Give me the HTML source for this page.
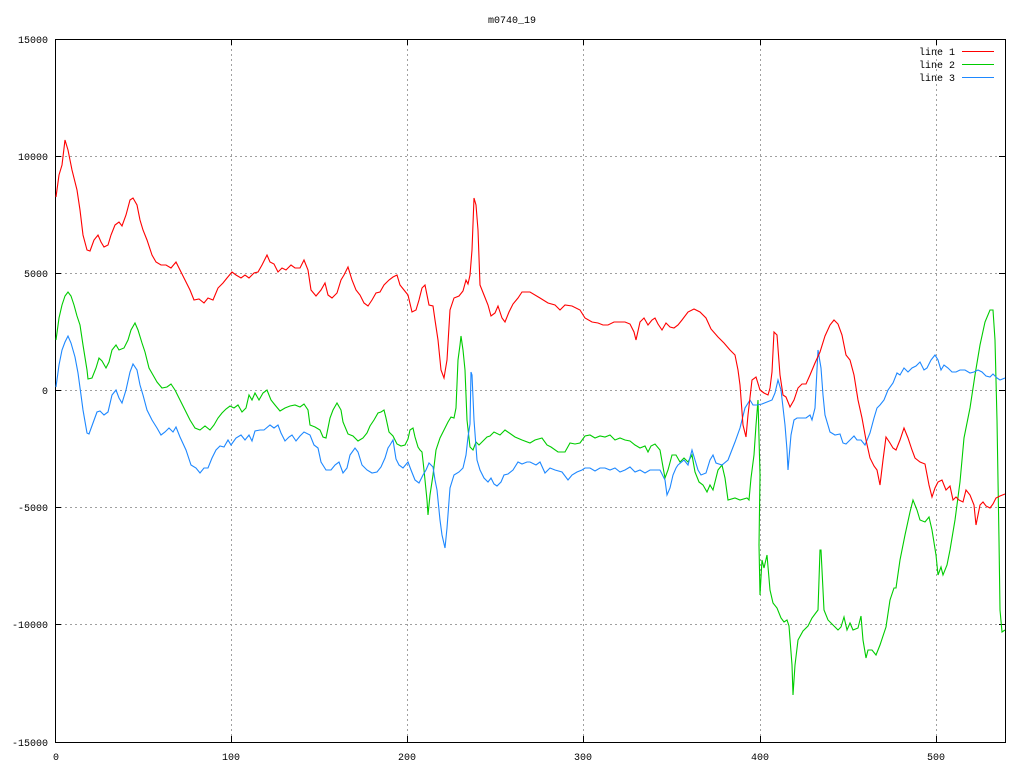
<!DOCTYPE html>
<html><head><meta charset="utf-8"><style>
body{margin:0;background:#fff}
svg{display:block;font-family:"Liberation Mono",monospace;font-size:10px}
</style></head><body>
<svg width="1024" height="768" xmlns="http://www.w3.org/2000/svg">
<rect width="1024" height="768" fill="#fff"/>
<g stroke="#a0a0a0" stroke-dasharray="2,3" stroke-width="1">
<line x1="231.5" y1="39" x2="231.5" y2="742"/><line x1="407.5" y1="39" x2="407.5" y2="742"/><line x1="583.5" y1="39" x2="583.5" y2="742"/><line x1="760.5" y1="39" x2="760.5" y2="742"/><line x1="936.5" y1="39" x2="936.5" y2="742"/>
<line x1="55" y1="156.5" x2="1005" y2="156.5"/><line x1="55" y1="273.5" x2="1005" y2="273.5"/><line x1="55" y1="390.5" x2="1005" y2="390.5"/><line x1="55" y1="507.5" x2="1005" y2="507.5"/><line x1="55" y1="624.5" x2="1005" y2="624.5"/>
</g>
<g stroke="#000" stroke-width="1">
<rect x="55.5" y="39.5" width="950" height="703" fill="none"/>
<path d="M55 156.5h6M55 273.5h6M55 390.5h6M55 507.5h6M55 624.5h6M1005 156.5h-6M1005 273.5h-6M1005 390.5h-6M1005 507.5h-6M1005 624.5h-6M231.5 742v-6M407.5 742v-6M583.5 742v-6M760.5 742v-6M936.5 742v-6M231.5 39v6M407.5 39v6M583.5 39v6M760.5 39v6M936.5 39v6"/>
</g>
<g fill="#000" text-anchor="end">
<text x="48" y="43">15000</text><text x="48" y="160">10000</text><text x="48" y="277">5000</text><text x="48" y="394">0</text><text x="48" y="511">-5000</text><text x="48" y="628">-10000</text><text x="48" y="746">-15000</text>
</g>
<g fill="#000" text-anchor="middle">
<text x="56" y="760">0</text><text x="231" y="760">100</text><text x="407" y="760">200</text><text x="583" y="760">300</text><text x="760" y="760">400</text><text x="936" y="760">500</text>
<text x="512" y="23">m0740_19</text>
</g>
<g fill="#000" text-anchor="end">
<text x="955" y="55">line 1</text><text x="955" y="68">line 2</text><text x="955" y="81">line 3</text>
</g>
<line x1="962" y1="51.5" x2="994" y2="51.5" stroke="#f00"/>
<line x1="962" y1="64.5" x2="994" y2="64.5" stroke="#0c0"/>
<line x1="962" y1="77.5" x2="994" y2="77.5" stroke="#1e88ff"/>
<g fill="none" stroke-width="1.1">
<polyline stroke="#0c0" points="56,340 59,318 62,305 65,296 68,292 71,296 74,305 77,316 80,325 83,345 87,370 88,379 92,378 96,368 99,358 102,361 106,368 109,362 112,350 116,345 119,350 124,348 128,340 131,330 135,323 138,330 142,343 145,352 149,368 153,375 157,382 162,388 167,387 171,384 175,390 180,400 185,410 190,420 195,428 200,430 205,426 210,430 214,425 218,418 222,413 226,409 230,406 234,408 238,405 242,412 246,408 249,395 252,400 255,393 259,400 263,393 267,390 271,400 275,405 280,411 285,408 290,406 295,405 300,407 304,404 308,410 310,425 315,427 320,430 323,437 326,438 330,418 333,410 337,403 341,410 343,422 348,434 353,436 358,441 363,438 367,433 370,426 374,420 378,413 381,412 384,410 386,418 389,432 393,436 397,444 401,446 405,445 408,439 410,430 413,428 415,437 418,447 420,450 422,452 424,470 427,500 428,515 430,495 433,475 436,450 440,438 444,430 448,422 451,417 454,418 456,408 458,360 460,345 461,336 463,350 465,370 467,420 470,447 473,450 476,442 479,445 483,441 487,437 490,436 494,432 500,435 505,430 515,437 522,440 530,443 535,440 542,438 547,445 551,447 558,452 565,452 570,443 575,444 580,443 585,436 590,435 595,438 600,436 605,437 610,435 615,440 620,438 625,440 630,441 635,445 640,448 645,446 648,452 651,446 655,444 660,450 663,467 665,478 668,470 672,455 676,455 680,462 684,458 688,462 692,455 695,472 699,482 703,485 707,492 710,485 713,490 718,470 722,465 725,478 728,500 735,498 740,500 747,498 749,500 751,478 754,455 756,425 758,400 760,475 759,545 760,595 762,560 764,568 767,555 770,590 773,603 777,608 781,618 784,622 787,620 789,626 792,665 793,695 795,665 798,640 803,631 808,626 812,618 815,614 818,610 820,550 821,550 824,610 828,620 833,625 838,630 841,627 844,617 847,630 850,623 853,630 858,628 861,616 863,640 866,658 868,650 872,650 876,655 880,645 886,627 890,600 894,588 896,588 900,560 905,535 910,512 913,500 917,510 920,520 925,522 929,517 932,530 936,555 938,575 941,567 943,575 947,565 950,550 955,520 960,482 964,438 970,408 975,375 980,345 985,322 990,310 993,310 995,340 997,420 999,540 1000,610 1002,632 1005,630"/>
<polyline stroke="#1e88ff" points="56,387 59,365 62,350 65,342 68,336 71,343 75,357 78,373 81,395 83,410 87,433 89,434 93,423 97,412 100,411 104,415 108,412 112,395 116,390 119,398 122,403 126,390 130,372 133,364 137,370 140,385 143,395 147,410 152,420 157,428 161,435 165,432 169,428 173,432 176,427 180,437 186,450 191,465 196,468 200,473 204,468 208,468 212,458 216,450 220,446 224,447 228,440 231,445 236,438 241,435 245,440 249,435 252,441 255,431 260,430 264,430 270,425 274,428 278,425 281,433 285,441 289,437 292,435 296,441 300,436 304,432 310,435 314,445 318,448 321,462 326,470 331,470 335,465 339,462 343,473 347,468 350,455 355,448 358,452 362,465 367,470 372,473 377,472 381,467 385,458 388,448 390,445 393,440 396,459 399,465 403,468 408,462 411,470 415,480 419,483 423,475 426,470 429,463 433,467 435,480 437,490 440,520 442,535 445,548 447,528 450,488 454,475 459,472 463,468 466,455 468,437 470,424 471,372 472,375 474,420 477,460 480,470 484,478 488,482 491,478 494,484 497,486 501,482 504,475 508,474 513,470 518,462 522,464 527,462 530,462 536,465 540,462 545,473 550,468 555,470 562,472 568,480 572,475 577,472 582,470 585,468 590,468 595,471 600,468 605,468 610,470 615,468 620,472 625,470 630,467 635,472 640,470 645,473 650,470 655,470 660,470 665,480 667,495 670,488 673,475 676,468 678,465 684,460 688,465 692,450 695,460 698,470 701,475 706,473 710,460 713,455 716,463 722,465 728,460 735,442 740,428 745,408 750,400 753,405 757,405 762,404 767,402 772,400 775,393 778,380 781,390 785,425 787,450 788,470 791,435 794,420 797,418 801,418 806,418 810,415 812,420 815,408 818,350 821,368 823,395 825,415 830,432 835,435 840,434 843,443 846,444 850,440 854,436 857,440 861,440 865,445 870,433 874,418 877,408 880,405 884,400 888,390 893,383 897,373 900,375 904,368 908,372 912,368 916,366 920,362 924,370 927,368 931,360 935,355 938,360 941,370 944,365 948,368 952,372 956,372 960,370 965,370 970,373 974,372 978,370 982,372 986,376 990,377 993,374 997,378 1000,380 1005,378"/>
<polyline stroke="#f00" points="56,197 59,175 62,165 65,140 68,150 72,170 77,190 80,210 83,235 87,250 90,251 94,240 98,235 101,242 104,247 108,245 111,235 115,225 119,222 122,226 126,215 130,200 133,198 137,205 140,220 143,230 147,240 152,255 156,262 161,265 166,265 171,268 176,262 180,270 185,280 190,290 194,300 199,299 204,303 208,298 213,300 218,288 223,283 227,278 232,272 236,275 241,278 245,275 249,278 254,273 258,272 262,265 267,255 270,262 274,264 278,272 282,268 286,270 291,265 295,268 300,268 304,260 308,270 311,290 316,296 321,290 325,283 328,295 332,298 337,293 341,280 344,275 348,267 352,280 356,290 360,295 364,303 368,306 372,300 376,293 380,292 384,285 389,280 393,277 397,275 400,285 404,290 408,295 412,312 416,310 419,300 422,288 425,285 429,305 433,306 435,320 438,340 441,370 444,378 447,360 450,310 454,298 459,296 463,291 466,280 468,284 470,275 472,250 474,198 476,205 478,230 480,285 484,295 488,305 491,316 495,313 498,306 502,318 505,322 509,312 513,304 518,298 522,292 530,292 540,298 548,303 555,305 560,310 565,305 572,306 580,310 585,318 592,322 598,323 603,325 608,325 614,322 618,322 625,322 630,324 634,332 636,340 640,322 644,318 648,325 652,320 655,318 658,324 662,330 666,323 670,327 674,328 678,325 682,320 688,312 694,309 700,312 706,318 711,329 718,337 724,343 730,350 735,355 738,370 740,385 743,425 746,437 748,415 752,380 756,377 760,390 764,393 768,395 770,388 772,372 774,332 777,335 780,375 783,395 786,397 790,407 794,400 798,388 802,384 806,384 810,375 815,363 820,352 825,336 830,325 834,320 838,324 842,335 846,355 850,360 854,375 858,400 862,418 866,440 870,458 874,466 877,470 880,485 883,460 886,437 890,443 893,448 896,450 900,440 904,428 908,438 912,450 915,458 920,462 925,464 929,485 932,497 935,488 938,482 942,480 946,490 950,486 953,500 956,497 959,500 963,502 966,490 970,495 974,505 976,525 978,515 980,505 983,502 986,506 990,508 993,504 996,498 1000,496 1005,494"/>
</g>
</svg>
</body></html>
